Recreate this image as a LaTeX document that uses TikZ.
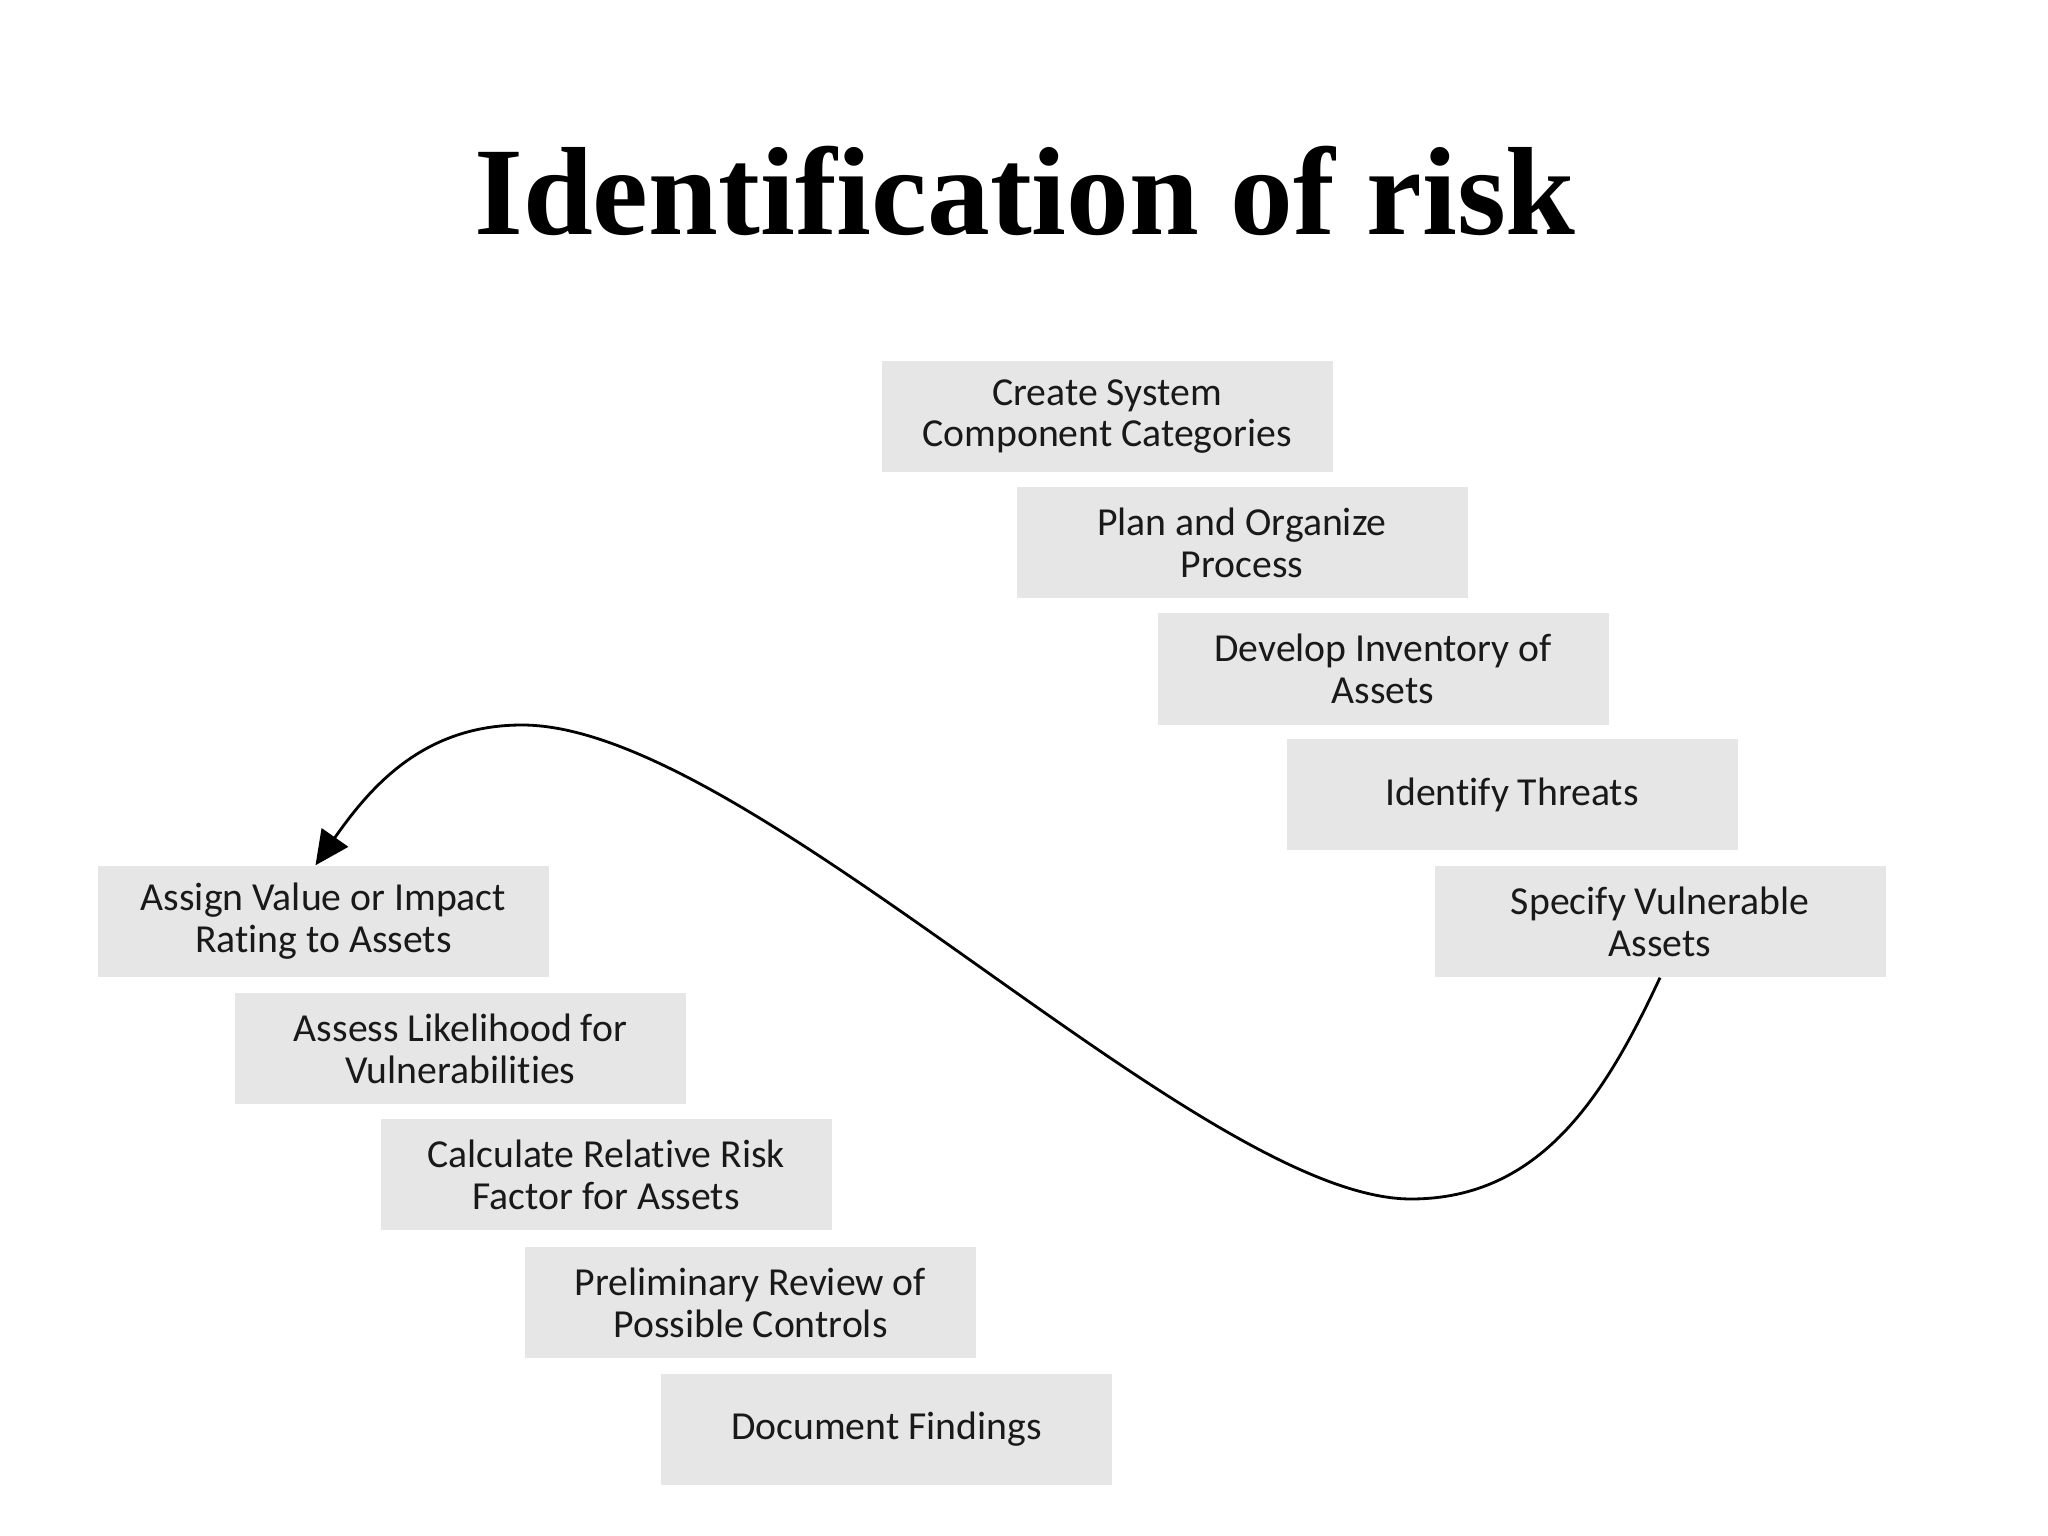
\documentclass[tikz,border=0pt]{standalone}
\usepackage{fontspec}
\setmainfont{Carlito}[Ligatures=NoCommon]
\newfontfamily\titlefont{Liberation Serif}
\usetikzlibrary{arrows.meta}
\definecolor{boxgray}{RGB}{230,230,230}
\tikzset{
  stepbox/.style={fill=boxgray, text=black!90, minimum width=4.51cm, minimum height=1.11cm,
    inner sep=0pt, align=center, font=\fontsize{11.3}{11.9}\selectfont},
}
\begin{document}
\begin{tikzpicture}[>={Triangle[length=0.34cm,width=0.32cm]}]
\useasboundingbox (0,0) rectangle (20.48,-15.36);
\node[anchor=base,font=\titlefont\bfseries\fontsize{35.7}{40}\selectfont] (title) at (10.25,-2.35) {Identification of risk};
% upper steps
\node[stepbox] (create) at (11.07,-4.165) {Create System\\Component Categories};
\node[stepbox] (plan) at (12.42,-5.43) {Plan and Organize\\Process};
\node[stepbox] (inventory) at (13.83,-6.69) {Develop Inventory of\\Assets};
\node[stepbox] (threats) at (15.12,-7.945) {Identify Threats};
\node[stepbox] (specify) at (16.60,-9.215) {Specify Vulnerable\\Assets};
% lower steps
\node[stepbox] (assign) at (3.235,-9.215) {Assign Value or Impact\\Rating to Assets};
\node[stepbox] (assess) at (4.605,-10.485) {Assess Likelihood for\\Vulnerabilities};
\node[stepbox] (calc) at (6.06,-11.745) {Calculate Relative Risk\\Factor for Assets};
\node[stepbox] (review) at (7.505,-13.025) {Preliminary Review of\\Possible Controls};
\node[stepbox] (document) at (8.865,-14.295) {Document Findings};
% loop back
\coordinate (low) at (14.11,-11.99);
\coordinate (high) at (5.22,-7.25);
\draw[->,thick] (specify.south) to[out=-115,in=0] (low)
  .. controls (12.0,-11.99) and (7.5,-7.25) .. (high)
  to[out=180,in=55] ([xshift=-0.08cm]assign.north);
\end{tikzpicture}
\end{document}
